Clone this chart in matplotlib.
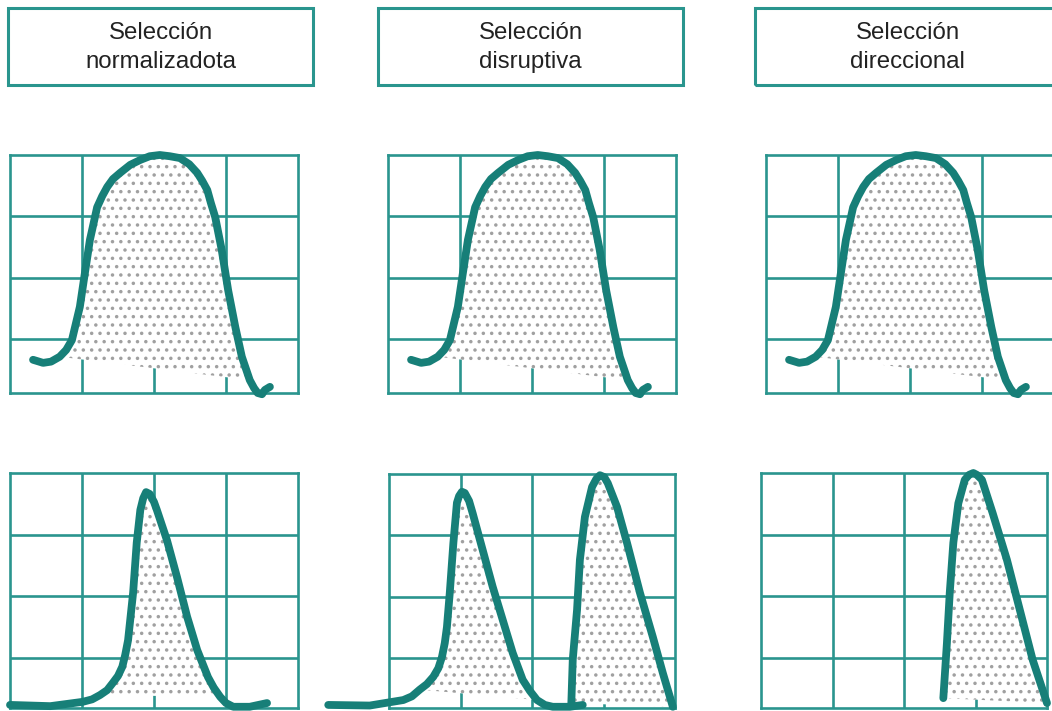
import matplotlib
matplotlib.use("Agg")
import matplotlib.pyplot as plt
from matplotlib.patches import Rectangle

W, H = 1052, 711

TEAL_LINE = "#177f78"
TEAL_GRID = "#2a958e"
DOT_GREY = "#a0a0a0"

# titles of the three columns
titles = [
    ("Selección", "normalizadota"),
    ("Selección", "disruptiva"),
    ("Selección", "direccional"),
]

# initial distribution (same in all three top panels), grid units
before_x = [0.32, 0.46, 0.57, 0.69, 0.78, 0.86, 0.97, 1.04, 1.11, 1.21, 1.28, 1.35,
            1.43, 1.53, 1.67, 1.81, 1.94, 2.08, 2.22, 2.36, 2.49, 2.60, 2.67, 2.74,
            2.79, 2.85, 2.94, 3.03, 3.13, 3.22, 3.33, 3.39, 3.44, 3.50, 3.54, 3.61]
before_y = [0.67, 0.62, 0.64, 0.72, 0.83, 0.99, 1.53, 2.08, 2.62, 3.15, 3.33, 3.48,
            3.61, 3.71, 3.84, 3.92, 3.98, 4.00, 3.98, 3.95, 3.85, 3.71, 3.58, 3.43,
            3.22, 2.99, 2.46, 1.80, 1.20, 0.72, 0.34, 0.21, 0.13, 0.11, 0.18, 0.23]
before_fill = (3, 30)   # index range of the dotted area

# stabilising selection: narrow peak
norm_x = [0.00, 0.56, 1.01, 1.14, 1.25, 1.35, 1.43, 1.50, 1.56, 1.60, 1.64, 1.71,
          1.76, 1.81, 1.85, 1.89, 1.94, 2.00, 2.04, 2.18, 2.32, 2.46, 2.60, 2.75,
          2.83, 2.92, 3.00, 3.10, 3.33, 3.57]
norm_y = [0.24, 0.22, 0.29, 0.33, 0.40, 0.48, 0.60, 0.71, 0.86, 1.05, 1.29, 2.06,
          2.87, 3.40, 3.59, 3.69, 3.66, 3.53, 3.40, 2.91, 2.31, 1.67, 1.13, 0.69,
          0.52, 0.37, 0.27, 0.21, 0.21, 0.27]
norm_fill = (4, 25)

# disruptive selection: two peaks
disr1_x = [-0.85, -0.27, 0.20, 0.32, 0.43, 0.53, 0.62, 0.69, 0.74, 0.78, 0.81, 0.85,
           0.90, 0.95, 0.98, 1.02, 1.06, 1.12, 1.17, 1.31, 1.45, 1.59, 1.73, 1.87,
           1.97, 2.07, 2.18, 2.29, 2.53, 2.71]
disr1_y = [0.23, 0.22, 0.31, 0.37, 0.48, 0.57, 0.69, 0.83, 1.01, 1.24, 1.50, 2.06,
           2.87, 3.53, 3.64, 3.71, 3.69, 3.56, 3.36, 2.76, 2.16, 1.62, 1.08, 0.64,
           0.46, 0.31, 0.23, 0.20, 0.20, 0.23]
disr1_fill = (4, 25)
disr2_x = [2.55, 2.57, 2.63, 2.67, 2.74, 2.84, 2.90, 2.95, 3.01, 3.06, 3.19, 3.33,
           3.51, 3.69, 3.83, 3.97]
disr2_y = [0.26, 0.97, 1.78, 2.60, 3.30, 3.79, 3.92, 3.98, 3.95, 3.85, 3.46, 2.87,
           2.06, 1.34, 0.75, 0.20]
disr2_fill = (0, 15)

# directional selection: peak shifted right
dirc_x = [2.55, 2.60, 2.64, 2.69, 2.76, 2.85, 2.91, 2.97, 3.02, 3.09, 3.24, 3.44,
          3.62, 3.80, 4.00]
dirc_y = [0.35, 1.24, 2.06, 2.87, 3.51, 3.89, 3.97, 4.00, 3.97, 3.89, 3.35, 2.59,
          1.78, 0.97, 0.27]
dirc_fill = (0, 14)

plt.rcParams["font.family"] = ["Liberation Sans", "DejaVu Sans"]
plt.rcParams["hatch.linewidth"] = 1.3

fig = plt.figure(figsize=(W / 100, H / 100), dpi=100)


def panel(left, top, bottom, ybot, width=288):
    ax = fig.add_axes([left / W, 1 - bottom / H, width / W, (bottom - top) / H])
    ax.set_xlim(0, 4)
    ax.set_ylim(ybot, 4)
    ax.set_xticks([1, 2, 3])
    ax.set_yticks([1, 2, 3])
    ax.tick_params(length=0, labelbottom=False, labelleft=False)
    ax.grid(True, color=TEAL_GRID, linewidth=1.9)
    for s in ax.spines.values():
        s.set_color(TEAL_GRID)
        s.set_linewidth(1.9)
    return ax


def curve(ax, xs, ys, fill_range):
    i0, i1 = fill_range
    ax.fill(xs[i0:i1 + 1], ys[i0:i1 + 1], facecolor="white", edgecolor=DOT_GREY,
            hatch="..", linewidth=0, zorder=2)
    ax.plot(xs, ys, color=TEAL_LINE, linewidth=5.6, solid_capstyle="round",
            solid_joinstyle="round", zorder=3, clip_on=False)


# title boxes
box_lefts = [8, 378, 755]
for left, (l1, l2) in zip(box_lefts, titles):
    fig.add_artist(Rectangle((left / W, 1 - 85 / H), 305 / W, 77 / H,
                             transform=fig.transFigure, fill=False,
                             edgecolor=TEAL_GRID, linewidth=2.2))
    cx = (left + 152.5) / W
    fig.text(cx, 1 - 39 / H, l1, ha="center", va="baseline", fontsize=17.3, color="#222222")
    fig.text(cx, 1 - 68 / H, l2, ha="center", va="baseline", fontsize=17.3, color="#222222")

# top row: initial population
for left in [10, 388, 766]:
    ax = panel(left, 155, 393, 0.13)
    curve(ax, before_x, before_y, before_fill)

# bottom row: after selection
ax = panel(10, 473, 708, 0.19)
curve(ax, norm_x, norm_y, norm_fill)

ax = panel(389, 474, 708, 0.18, width=286)
curve(ax, disr1_x, disr1_y, disr1_fill)
curve(ax, disr2_x, disr2_y, disr2_fill)

ax = panel(761, 473, 708, 0.19, width=286)
curve(ax, dirc_x, dirc_y, dirc_fill)

fig.savefig("out.png", dpi=100)
